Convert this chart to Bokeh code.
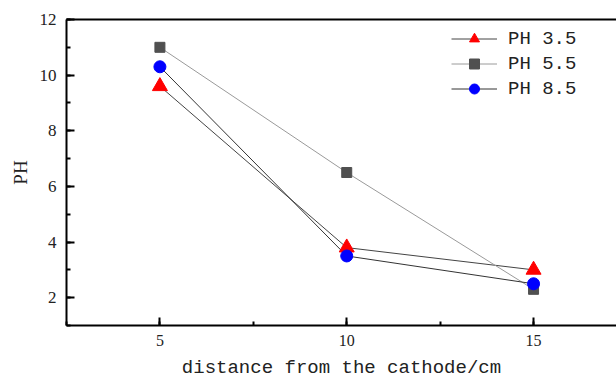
from bokeh.plotting import figure
from bokeh.models import Range1d, SingleIntervalTicker, Legend, LegendItem, LinearAxis
from bokeh.embed import file_html
from bokeh.resources import INLINE

# ---- data ----
distance = [5, 10, 15]
ph_35 = [9.6, 3.8, 3.0]
ph_55 = [11.0, 6.5, 2.3]
ph_85 = [10.3, 3.5, 2.5]
series_labels = ["PH 3.5", "PH 5.5", "PH 8.5"]

p = figure(width=616, height=385, output_backend="svg", toolbar_location=None,
           x_range=Range1d(2.5, 17.22), y_range=Range1d(1.0, 12.0),
           x_axis_label="distance from the cathode/cm", y_axis_label="PH",
           min_border_left=66, min_border_right=0, min_border_top=19,
           min_border_bottom=60)
p.outline_line_color = None
p.xgrid.visible = False
p.ygrid.visible = False
p.background_fill_color = "white"
p.border_fill_color = "white"

p.xaxis.ticker = SingleIntervalTicker(interval=5, num_minor_ticks=2)
p.yaxis.ticker = SingleIntervalTicker(interval=2, num_minor_ticks=2)

for ax in (p.xaxis[0], p.yaxis[0]):
    ax.axis_line_width = 2
    ax.axis_line_color = "black"
    ax.major_tick_in = 8
    ax.major_tick_out = 0
    ax.minor_tick_in = 4
    ax.minor_tick_out = 0
    ax.major_tick_line_width = 2
    ax.minor_tick_line_width = 2
    ax.major_label_text_font = "Liberation Serif"
    ax.major_label_text_color = "#222222"

p.xaxis.major_label_text_font_size = "16px"
p.yaxis.major_label_text_font_size = "17px"
p.xaxis.major_label_standoff = 9
p.yaxis.major_label_standoff = 10
p.xaxis.axis_label_text_font = "Liberation Mono"
p.xaxis.axis_label_text_font_size = "19px"
p.xaxis.axis_label_text_font_style = "normal"
p.xaxis.axis_label_text_color = "#222222"
p.xaxis.axis_label_standoff = 8
p.yaxis.axis_label_text_font = "Liberation Serif"
p.yaxis.axis_label_text_font_size = "19px"
p.yaxis.axis_label_text_font_style = "normal"
p.yaxis.axis_label_text_color = "#222222"
p.yaxis.axis_label_standoff = 6

# top frame line (axis without ticks or labels)
top = LinearAxis(ticker=SingleIntervalTicker(interval=5, num_minor_ticks=2),
                 axis_line_width=2, axis_line_color="black",
                 major_tick_line_color=None, minor_tick_line_color=None,
                 major_label_text_alpha=0, major_label_text_font_size="1px",
                 major_label_standoff=0, major_tick_out=0, major_tick_in=0,
                 minor_tick_out=0, minor_tick_in=0)
p.add_layout(top, "above")

l1 = p.line(distance, ph_35, line_color="#444444", line_width=1)
l2 = p.line(distance, ph_55, line_color="#9a9a9a", line_width=1)
l3 = p.line(distance, ph_85, line_color="#333333", line_width=1)
m1 = p.scatter(distance, ph_35, marker="triangle", size=15, fill_color="#ff0000", line_color="#ff0000")
m2 = p.scatter(distance, ph_55, marker="square", size=10, fill_color="#505050", line_color="#505050")
m3 = p.scatter(distance, ph_85, marker="circle", size=12, fill_color="#0000ff", line_color="#0000ff")

legend = Legend(items=[LegendItem(label=series_labels[0], renderers=[l1, m1]),
                       LegendItem(label=series_labels[1], renderers=[l2, m2]),
                       LegendItem(label=series_labels[2], renderers=[l3, m3])],
                location=(385, 224))
legend.border_line_color = None
legend.background_fill_alpha = 0
legend.padding = 0
legend.margin = 0
legend.spacing = 0
legend.glyph_width = 46
legend.glyph_height = 25
legend.label_height = 25
legend.label_standoff = 11
legend.label_text_font = "Liberation Mono"
legend.label_text_font_size = "19px"
legend.label_text_color = "#222222"
p.add_layout(legend, "center")

open("out.html", "w").write(file_html(p, INLINE))
